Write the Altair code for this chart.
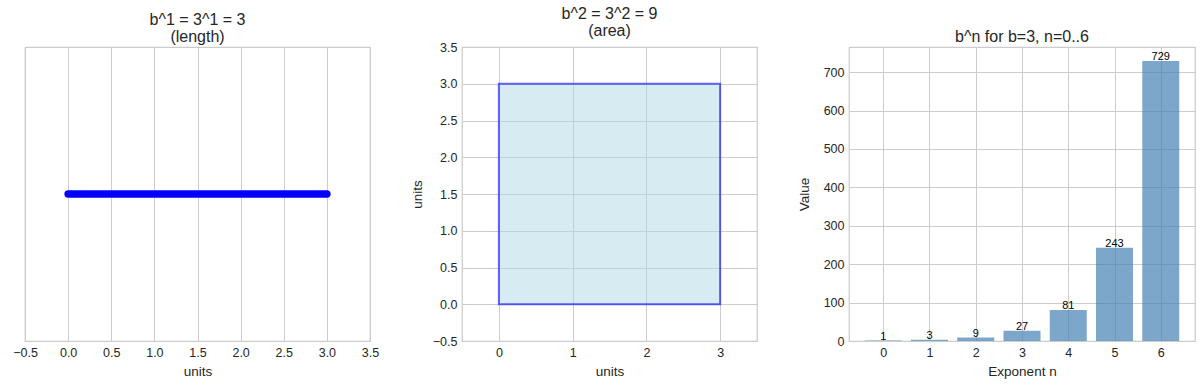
import altair as alt
import pandas as pd

# ---- data ----
line_x = [0, 3]
line_y = [0, 0]

square_x0 = [0]
square_x1 = [3]
square_y0 = [0]
square_y1 = [3]

exponents = [0, 1, 2, 3, 4, 5, 6]
values = [1, 3, 9, 27, 81, 243, 729]

p1_ticks = [-0.5, 0.0, 0.5, 1.0, 1.5, 2.0, 2.5, 3.0, 3.5]
p2_xticks = [0, 1, 2, 3]
p2_yticks = [-0.5, 0.0, 0.5, 1.0, 1.5, 2.0, 2.5, 3.0, 3.5]
p3_xticks = [0, 1, 2, 3, 4, 5, 6]
p3_yticks = [0, 100, 200, 300, 400, 500, 600, 700]

FONT = "Liberation Sans"
TXT = "#262626"
GRID = "#cccccc"

# ---- panel 1 ----
df1 = pd.DataFrame({"x": line_x, "y": line_y})
p1 = alt.Chart(df1).mark_line(color="#0000ff", strokeWidth=7.5, strokeCap="round").encode(
    x=alt.X("x:Q", scale=alt.Scale(domain=[-0.5, 3.5], nice=False, zero=False),
            axis=alt.Axis(values=p1_ticks, format=".1f", title="units")),
    y=alt.Y("y:Q", scale=alt.Scale(domain=[-1, 1], nice=False), axis=None),
).properties(width=345, height=294,
             title=alt.TitleParams(["b^1 = 3^1 = 3", "(length)"]))

# ---- panel 2 ----
df2 = pd.DataFrame({"x0": square_x0, "x1": square_x1, "y0": square_y0, "y1": square_y1})
p2 = alt.Chart(df2).mark_rect(fill="#add8e6", fillOpacity=0.5, stroke="#0000ff",
                              strokeOpacity=0.6, strokeWidth=2).encode(
    x=alt.X("x0:Q", scale=alt.Scale(domain=[-0.5, 3.5], nice=False, zero=False),
            axis=alt.Axis(values=p2_xticks, format="d", title="units")),
    x2="x1:Q",
    y=alt.Y("y0:Q", scale=alt.Scale(domain=[-0.5, 3.5], nice=False, zero=False),
            axis=alt.Axis(values=p2_yticks, format=".1f", title="units", titlePadding=8)),
    y2="y1:Q",
).properties(width=295, height=294,
             title=alt.TitleParams(["b^2 = 3^2 = 9", "(area)"]))

# ---- panel 3 ----
df3 = pd.DataFrame({"n": exponents, "v": values})
base3 = alt.Chart(df3).transform_calculate(x0="datum.n - 0.4", x1="datum.n + 0.4")
xs = alt.Scale(domain=[-0.74, 6.74], nice=False, zero=False)
ys = alt.Scale(domain=[0, 765.45], nice=False)
bars = base3.mark_bar(color="#4682b4", opacity=0.7).encode(
    x=alt.X("x0:Q", scale=xs, axis=alt.Axis(values=p3_xticks, format="d", title="Exponent n")),
    x2="x1:Q",
    y=alt.Y("v:Q", scale=ys, axis=alt.Axis(values=p3_yticks, format="d", title="Value",
                                           titlePadding=12)),
    y2=alt.datum(0),
)
labels = base3.mark_text(baseline="bottom", fontSize=11, color="#000000", font=FONT, dy=1).encode(
    x=alt.X("n:Q", scale=xs),
    y=alt.Y("v:Q", scale=ys),
    text=alt.Text("v:Q", format="d"),
)
p3 = alt.layer(bars, labels).properties(width=346, height=294,
                                         title=alt.TitleParams("b^n for b=3, n=0..6"))

chart = alt.hconcat(p1, p2, p3, spacing=92, bounds="flush").properties(
    padding={"left": 12, "top": 5, "right": 5, "bottom": 5}
).configure_view(
    stroke=GRID, strokeWidth=1.25
).configure_axis(
    domain=False, ticks=False, grid=True, gridColor=GRID, gridWidth=1,
    labelColor=TXT, titleColor=TXT, labelFont=FONT, titleFont=FONT,
    labelFontSize=12.5, titleFontSize=13.5, titleFontWeight="normal",
    labelPadding=5, titlePadding=6, labelFlush=False,
).configure_axisY(
    titlePadding=8,
).configure_title(
    font=FONT, fontSize=16, fontWeight="normal", color=TXT, lineHeight=17, offset=2,
)

chart.save("out.html", embed_options={"renderer": "svg", "actions": False})
